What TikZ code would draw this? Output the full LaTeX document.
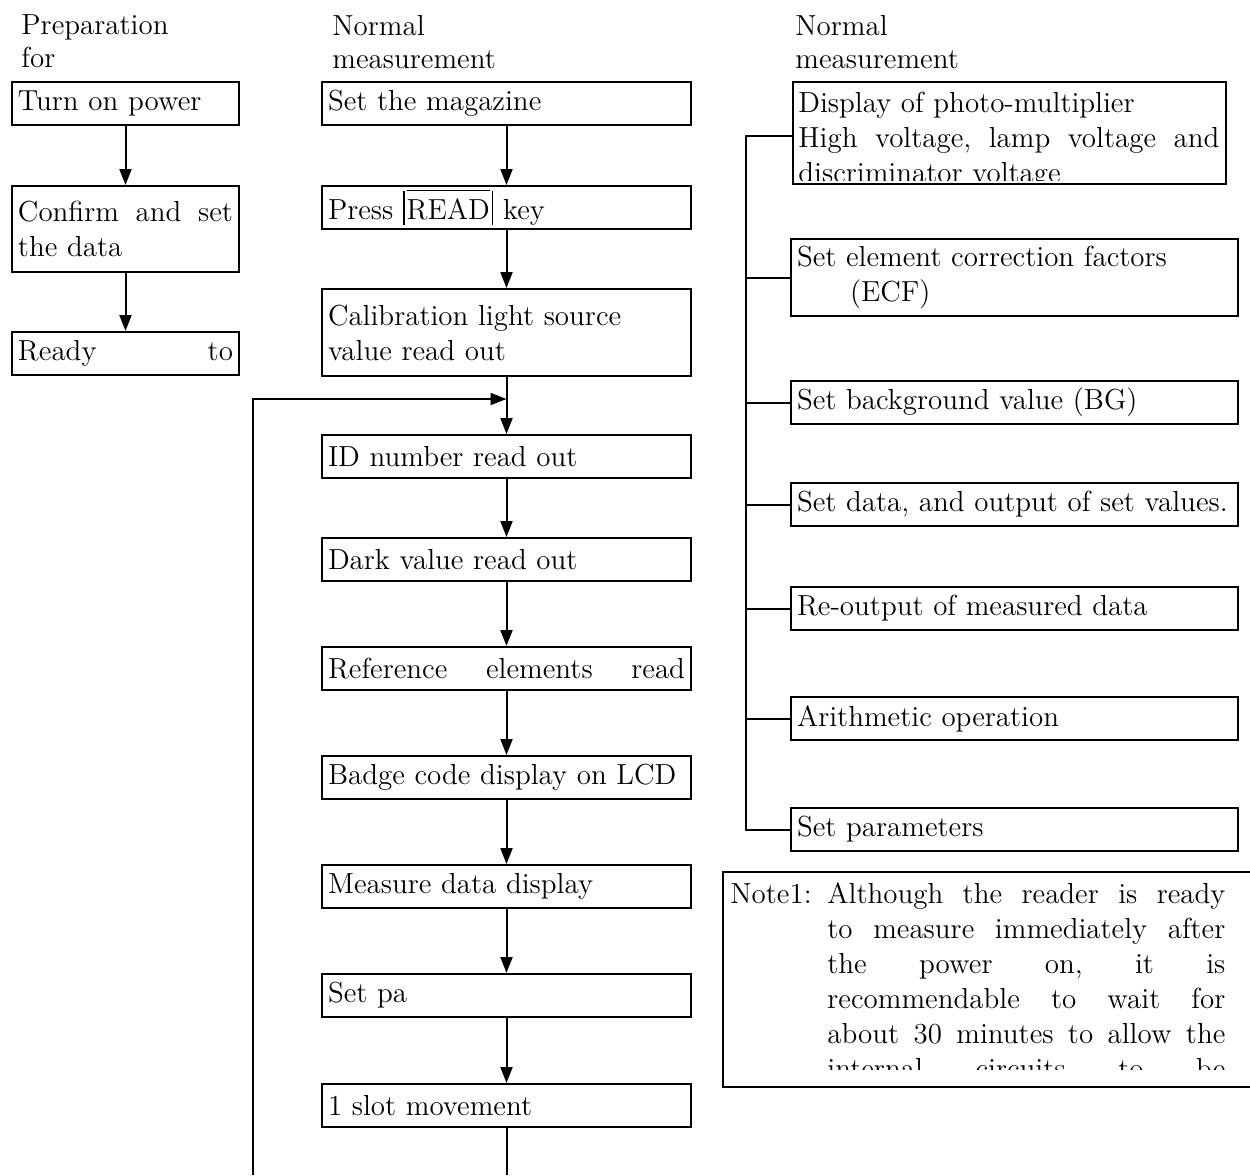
\documentclass[tikz,border=0pt]{standalone}
\usetikzlibrary{positioning,arrows.meta}
\newcommand{\flowfont}{\fontsize{14.5}{17.5}\selectfont}
\newcommand{\keyframe}[1]{\vrule width 0.8pt height 14.5pt depth 2.5pt\kern1pt\vbox{\hrule height 0.8pt\kern3.8pt\hbox{#1}}\kern1pt\vrule width 0.8pt height 14.5pt depth 2.5pt\relax}
\begin{document}
\begin{tikzpicture}[x=0.5pt,y=-0.5pt,font=\flowfont]
  \tikzstyle{stepbox}=[draw,line width=1pt,inner xsep=3pt,inner ysep=0pt,minimum height=21.5pt,align=left]
  \tikzstyle{leftbox}=[stepbox,text width=107.5pt]
  \tikzstyle{midbox}=[stepbox,text width=178.5pt]
  \tikzstyle{rightbox}=[stepbox,text width=217.5pt]
  \tikzstyle{heading}=[inner sep=0pt,anchor=north west,text width=120pt,align=left,font=\fontsize{14.5}{16.5}\selectfont]
  \tikzstyle{flow}=[line width=1pt,-{Triangle[length=8pt,width=6pt]}]
  \tikzstyle{link}=[line width=1pt]
  \path[use as bounding box,fill=white] (0,0) rectangle (1250,1175);

  \node[heading] (prephead) at (21,14) {Preparation\\for};
  \node[heading] (normhead) at (332,15) {Normal\\measurement};
  \node[heading] (menuhead) at (795,15) {Normal\\measurement};

  \node[leftbox,anchor=north west] (power) at (11,81) {Turn on power};
  \node[leftbox,below=29.5pt of power,minimum height=43pt] (confirm) {Confirm \hfill and \hfill set\\the data};
  \node[leftbox,below=29pt of confirm] (ready) {Ready \hfill to};

  \node[midbox,anchor=north west] (magazine) at (321,81) {Set the magazine};
  \node[midbox,below=29.5pt of magazine] (readkey) {Press \keyframe{READ} key};
  \node[midbox,below=29pt of readkey,minimum height=43.5pt] (calib) {Calibration light source\\value read out};
  \node[midbox,below=28.5pt of calib] (idread) {ID number read out};
  \node[midbox,below=29pt of idread] (dark) {Dark value read out};
  \node[midbox,below=32pt of dark] (refread) {Reference \hfill elements \hfill read};
  \node[midbox,below=32pt of refread] (badge) {Badge code display on LCD};
  \node[midbox,below=32pt of badge] (measure) {Measure data display};
  \node[midbox,below=32pt of measure] (setpa) {Set pa};
  \node[midbox,below=32.5pt of setpa] (slot) {1 slot movement};

  \node[draw,line width=1pt,inner sep=0pt,minimum width=216.5pt,minimum height=51pt,anchor=north west] (display) at (792,81) {};
  \begin{scope}
    \clip (792,81) rectangle (1225,180);
    \node[inner sep=0pt,anchor=base west,text width=210.5pt,align=left] (displaytext) at (798,112) {Display of photo-multiplier\\High \hfill voltage, \hfill lamp \hfill voltage \hfill and\\discriminator voltage};
  \end{scope}
  \node[rightbox,anchor=north west,minimum height=38.5pt] (ecf) at (790,238) {Set element correction factors\\\hspace*{26.5pt}(ECF)};
  \node[rightbox,below=31.5pt of ecf] (bgvalue) {Set background value (BG)};
  \node[rightbox,below=28.5pt of bgvalue] (setdata) {Set data, and output of set values.};
  \node[rightbox,below=29.5pt of setdata] (reoutput) {Re-output of measured data};
  \node[rightbox,below=32.5pt of reoutput] (arith) {Arithmetic operation};
  \node[rightbox,below=33pt of arith] (params) {Set parameters};

  \node[inner sep=0pt,minimum width=263.5pt,minimum height=107pt,anchor=north west] (note) at (723,872) {};
  \draw[link] (note.north east) -- (note.north west) -- (note.south west) -- (note.south east);
  \node[inner sep=0pt,anchor=base west] (notelabel) at (730,903) {Note1:};
  \begin{scope}
    \clip (note.north west) rectangle (1250,1069);
    \node[inner sep=0pt,anchor=base west,text width=199pt,align=left] (notetext) at (827,903) {Although \hfill the \hfill reader \hfill is \hfill ready\\to \hfill measure \hfill immediately \hfill after\\the \hfill power \hfill on, \hfill it \hfill is\\recommendable \hfill to \hfill wait \hfill for\\about \hfill 30 \hfill minutes \hfill to \hfill allow \hfill the\\internal \hfill circuits \hfill to \hfill be};
  \end{scope}

  \draw[flow] (power) -- (confirm);
  \draw[flow] (confirm) -- (ready);
  \draw[flow] (magazine) -- (readkey);
  \draw[flow] (readkey) -- (calib);
  \draw[flow] (calib) -- (idread);
  \draw[flow] (idread) -- (dark);
  \draw[flow] (dark) -- (refread);
  \draw[flow] (refread) -- (badge);
  \draw[flow] (badge) -- (measure);
  \draw[flow] (measure) -- (setpa);
  \draw[flow] (setpa) -- (slot);
  \coordinate (loopbase) at (253,1175);
  \coordinate (looptop) at (253,399);
  \coordinate (rejoin) at (calib.south |- looptop);
  \draw[flow] (loopbase) -- (looptop) -- (rejoin);
  \draw[link] (slot) -- (slot.south |- loopbase);

  \coordinate (trunk) at (746,136);
  \draw[link] (display.west |- trunk) -- (trunk) |- (params.west);
  \foreach \item in {ecf,bgvalue,setdata,reoutput,arith}
    \draw[link] (trunk |- \item.west) -- (\item.west);
\end{tikzpicture}
\end{document}
